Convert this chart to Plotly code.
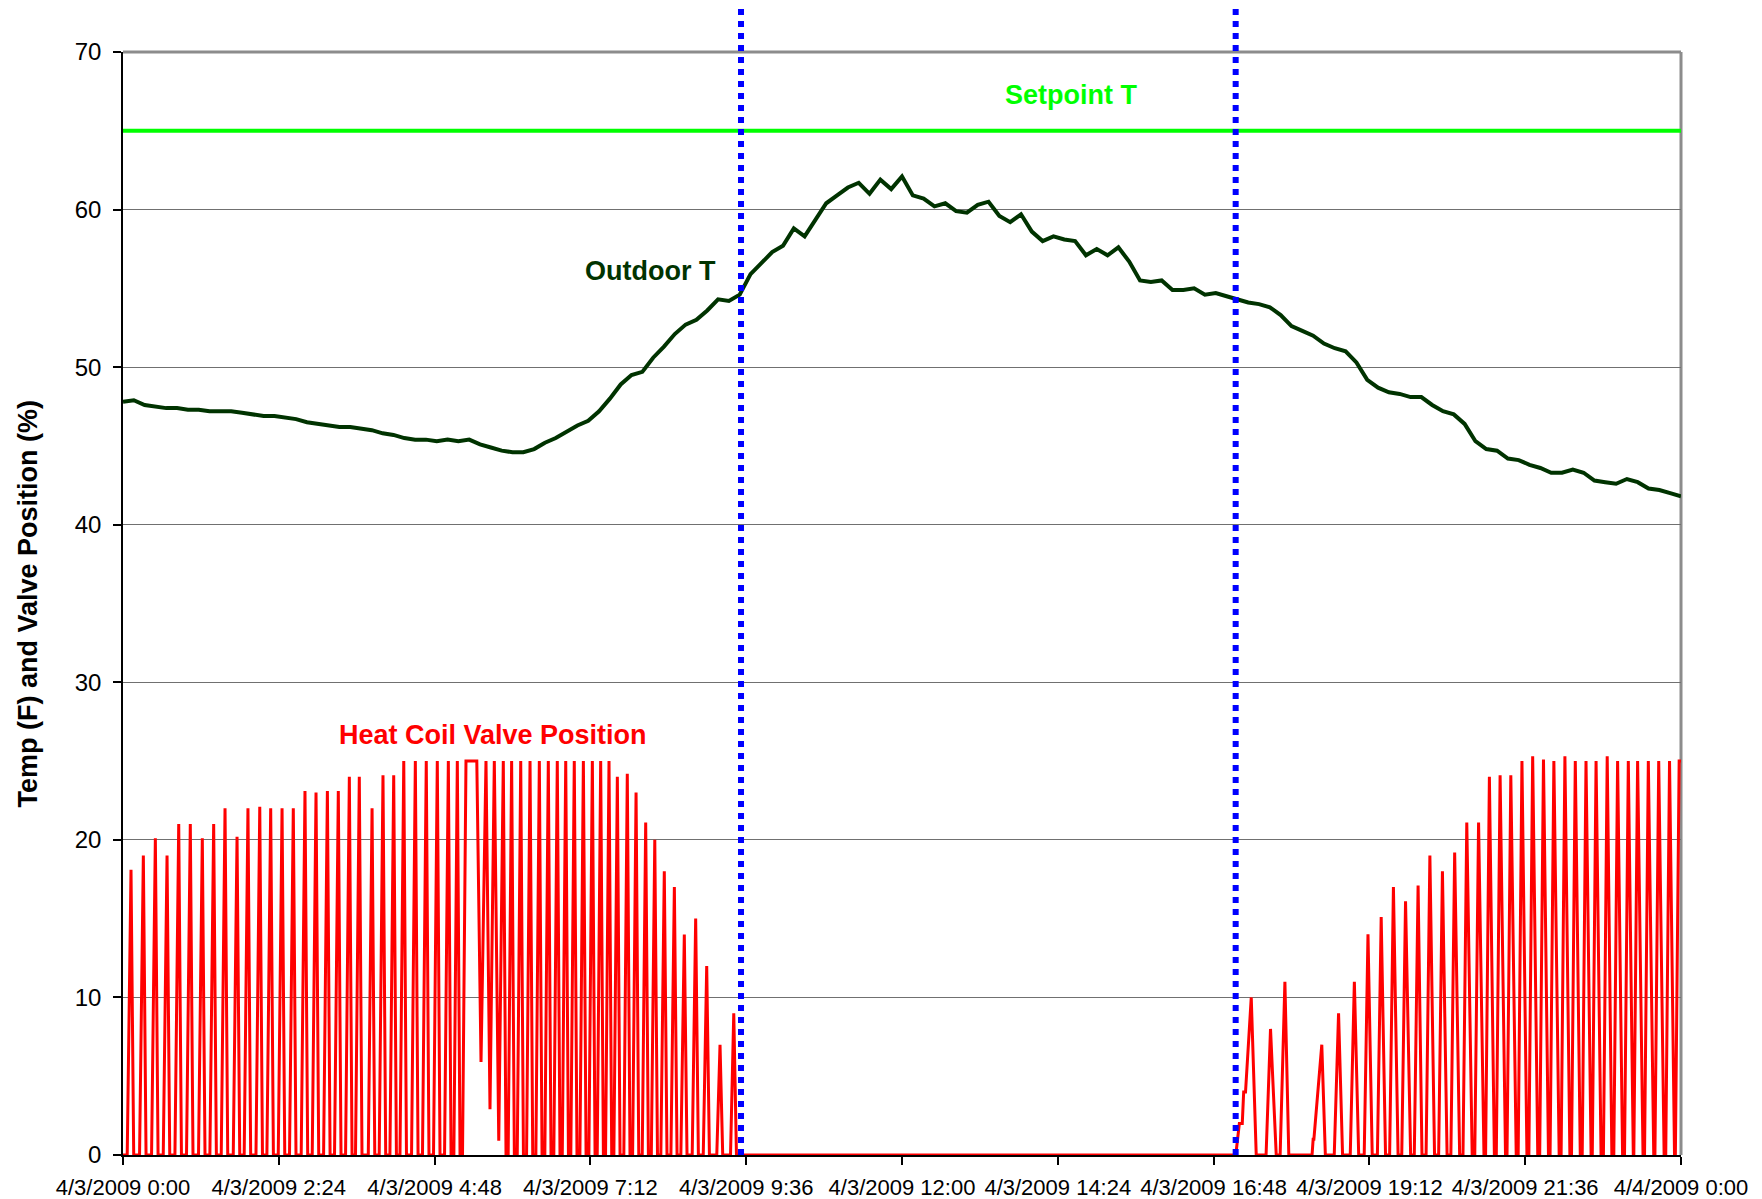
import plotly.graph_objects as go

# ---------------- data ----------------
x_tick_hours = [0, 2.4, 4.8, 7.2, 9.6, 12.0, 14.4, 16.8, 19.2, 21.6, 24.0]
x_tick_labels = ["4/3/2009 0:00", "4/3/2009 2:24", "4/3/2009 4:48", "4/3/2009 7:12",
                 "4/3/2009 9:36", "4/3/2009 12:00", "4/3/2009 14:24", "4/3/2009 16:48",
                 "4/3/2009 19:12", "4/3/2009 21:36", "4/4/2009 0:00"]

setpoint_hours = [0, 24]
setpoint_temp = [65, 65]

# outdoor temperature, one reading every 10 minutes from 0:00 to 24:00
outdoor_step_min = 10
outdoor_temp = [
    47.8, 47.9, 47.6, 47.5, 47.4, 47.4,
    47.3, 47.3, 47.2, 47.2, 47.2, 47.1,
    47.0, 46.9, 46.9, 46.8, 46.7, 46.5,
    46.4, 46.3, 46.2, 46.2, 46.1, 46.0,
    45.8, 45.7, 45.5, 45.4, 45.4, 45.3,
    45.4, 45.3, 45.4, 45.1, 44.9, 44.7,
    44.6, 44.6, 44.8, 45.2, 45.5, 45.9,
    46.3, 46.6, 47.2, 48.0, 48.9, 49.5,
    49.7, 50.6, 51.3, 52.1, 52.7, 53.0,
    53.6, 54.3, 54.2, 54.6, 55.9, 56.6,
    57.3, 57.7, 58.8, 58.3, 59.3, 60.4,
    60.9, 61.4, 61.7, 61.0, 61.9, 61.3,
    62.1, 60.9, 60.7, 60.2, 60.4, 59.9,
    59.8, 60.3, 60.5, 59.6, 59.2, 59.7,
    58.6, 58.0, 58.3, 58.1, 58.0, 57.1,
    57.5, 57.1, 57.6, 56.7, 55.5, 55.4,
    55.5, 54.9, 54.9, 55.0, 54.6, 54.7,
    54.5, 54.3, 54.1, 54.0, 53.8, 53.3,
    52.6, 52.3, 52.0, 51.5, 51.2, 51.0,
    50.3, 49.2, 48.7, 48.4, 48.3, 48.1,
    48.1, 47.6, 47.2, 47.0, 46.4, 45.3,
    44.8, 44.7, 44.2, 44.1, 43.8, 43.6,
    43.3, 43.3, 43.5, 43.3, 42.8, 42.7,
    42.6, 42.9, 42.7, 42.3, 42.2, 42.0,
    41.8,
]

# heat coil valve position: (minute of day, percent) vertices
valve_minutes = [
    0, 3.9, 7.4, 9.9, 15.3, 18.8, 21.3, 26.4, 29.9, 32.4, 37.2, 40.7, 43.2,
    48.0, 51.5, 54.0, 58.7, 62.2, 64.7, 69.8, 73.3, 75.8, 80.3, 83.8, 86.3,
    90.8, 94.3, 96.8, 101.9, 105.4, 107.9, 112.0, 115.5, 118.0, 122.9, 126.4, 128.9,
    133.0, 136.5, 139.0, 143.5, 147.0, 149.5, 153.9, 157.4, 159.9, 164.7, 168.2, 170.7,
    174.9, 178.4, 180.9, 185.4, 188.9, 191.4, 195.5, 199.0, 201.5, 205.7, 209.2, 211.7,
    214.9, 218.4, 220.9, 226.7, 230.2, 232.7, 236.8, 240.3, 242.8, 246.7, 250.2, 252.7,
    256.0, 259.5, 262.0, 266.7, 270.2, 272.7, 276.8, 280.3, 282.8, 287.0, 290.5, 293.0,
    297.2, 300.7, 303.2, 305.8, 309.0, 311.5,
    313.8, 317.0, 327.0, 330.9, 335.5, 339.2, 343.2, 347.3, 351.5, 354.0,
    356.0, 359.2, 361.7, 364.4, 367.6, 370.1, 373.0, 376.2, 378.7, 381.6, 384.8, 387.3,
    389.9, 393.1, 395.6, 398.2, 401.4, 403.9, 406.0, 409.2, 411.7, 413.9, 417.1, 419.6,
    422.3, 425.5, 428.0, 430.6, 433.8, 436.3, 438.3, 441.5, 444.0, 446.0, 449.2, 451.7,
    453.7, 456.9, 459.4, 462.9, 466.1, 468.6, 471.0, 474.2, 476.7, 479.9, 483.1, 485.6,
    488.3, 491.5, 494.0, 497.1, 500.3, 502.8, 506.4, 509.6, 512.1, 515.6, 518.8, 521.3,
    526.1, 529.3, 531.8, 536.3, 539.5, 542.0, 548.8, 551.8, 554.3, 561.5, 564.5, 567.0,
    1028.5, 1031.8, 1034.5, 1035.8, 1037.5, 1042.8, 1047.4,
    1056.5, 1060.6, 1065.9, 1069.5, 1073.9, 1077.5,
    1099.0, 1100.0, 1100.7, 1108.0, 1111.3,
    1119.5, 1123.5, 1127.2, 1134.3, 1138.1, 1142.1, 1147.2, 1150.7, 1154.6,
    1159.4, 1162.9, 1166.9, 1170.7, 1174.2, 1178.5, 1181.9, 1185.4, 1190.1,
    1193.5, 1197.0, 1200.6, 1204.4, 1207.9, 1212.2, 1216.0, 1219.5, 1223.8,
    1227.3, 1230.8, 1235.4, 1238.5, 1242.0, 1247.0, 1249.4, 1252.9, 1257.9,
    1259.4, 1262.9, 1267.5, 1269.3, 1272.8, 1277.8, 1279.2, 1282.7, 1287.7,
    1289.5, 1293.0, 1297.6, 1299.4, 1302.9, 1307.6, 1309.4, 1312.9, 1317.5,
    1319.0, 1322.5, 1327.4, 1329.2, 1332.7, 1337.3, 1338.8, 1342.3, 1346.9,
    1348.7, 1352.2, 1356.9, 1358.0, 1361.5, 1366.1, 1368.3, 1371.8, 1376.1,
    1377.9, 1381.4, 1386.0, 1387.8, 1391.3, 1395.9, 1396.4, 1399.9, 1404.9,
    1406.3, 1409.8, 1414.8, 1415.9, 1419.4, 1424.4, 1425.9, 1429.4, 1434.0,
    1434.8, 1438.3, 1440.0,
]
valve_percent = [
    0, 0, 18.1, 0, 0, 19.0, 0, 0, 20.1, 0, 0, 19.0, 0,
    0, 21.0, 0, 0, 21.0, 0, 0, 20.1, 0, 0, 21.0, 0,
    0, 22.0, 0, 0, 20.2, 0, 0, 22.0, 0, 0, 22.1, 0,
    0, 22.0, 0, 0, 22.0, 0, 0, 22.0, 0, 0, 23.1, 0,
    0, 23.0, 0, 0, 23.1, 0, 0, 23.1, 0, 0, 24.0, 0,
    0, 24.0, 0, 0, 22.0, 0, 0, 24.1, 0, 0, 24.1, 0,
    0, 25.0, 0, 0, 25.0, 0, 0, 25.0, 0, 0, 25.0, 0,
    0, 25.0, 0, 0, 25.0, 0,
    0, 25.0, 25.0, 5.9, 25.0, 2.9, 25.0, 0.9, 25.0, 0,
    0, 25.0, 0, 0, 25.0, 0, 0, 25.0, 0, 0, 25.0, 0,
    0, 25.0, 0, 0, 25.0, 0, 0, 25.0, 0, 0, 25.0, 0,
    0, 25.0, 0, 0, 25.0, 0, 0, 25.0, 0, 0, 25.0, 0,
    0, 24.0, 0, 0, 24.2, 0, 0, 23.0, 0, 0, 21.1, 0,
    0, 20.0, 0, 0, 18.0, 0, 0, 17.0, 0, 0, 14.0, 0,
    0, 15.0, 0, 0, 12.0, 0, 0, 7.0, 0, 0, 9.0, 0,
    0, 2.0, 2.0, 4.0, 4.0, 10.0, 0,
    0, 8.0, 0, 0, 11.0, 0,
    0, 1.0, 1.0, 7.0, 0,
    0, 9.0, 0, 0, 11.0, 0, 0, 14.0, 0,
    0, 15.1, 0, 0, 17.0, 0, 0, 16.1, 0,
    0, 17.1, 0, 0, 19.0, 0, 0, 18.0, 0,
    0, 19.2, 0, 0, 21.1, 0, 0, 21.1, 0,
    0, 24.0, 0, 0, 24.1, 0, 0, 24.1, 0,
    0, 25.0, 0, 0, 25.3, 0, 0, 25.1, 0,
    0, 25.0, 0, 0, 25.3, 0, 0, 25.0, 0,
    0, 25.0, 0, 0, 25.0, 0, 0, 25.3, 0,
    0, 25.0, 0, 0, 25.0, 0, 0, 25.0, 0,
    0, 25.0, 0, 0, 25.0, 0, 0, 25.0, 0,
    0, 25.0, 25.0,
]

# occupancy boundaries (hours)
boundary_hours = [9.52, 17.14]

# ---------------- figure ----------------
FONT = "Arial, Liberation Sans, Helvetica, sans-serif"
outdoor_hours = [i * outdoor_step_min / 60 for i in range(len(outdoor_temp))]
valve_hours = [m / 60 for m in valve_minutes]

fig = go.Figure()
fig.add_trace(go.Scatter(x=valve_hours, y=valve_percent, mode="lines",
                         line=dict(color="#FF0000", width=3), name="Heat Coil Valve Position"))
fig.add_trace(go.Scatter(x=outdoor_hours, y=outdoor_temp, mode="lines",
                         line=dict(color="#003300", width=4), name="Outdoor T"))
fig.add_trace(go.Scatter(x=setpoint_hours, y=setpoint_temp, mode="lines",
                         line=dict(color="#00FF00", width=4), name="Setpoint T"))

shapes = []
# plot-area border (top and right), gray
shapes.append(dict(type="line", xref="paper", yref="paper", x0=0, x1=1, y0=1, y1=1,
                   line=dict(color="#8c8c8c", width=3), layer="below"))
shapes.append(dict(type="line", xref="paper", yref="paper", x0=1, x1=1, y0=0, y1=1,
                   line=dict(color="#8c8c8c", width=3), layer="below"))
for h in boundary_hours:
    shapes.append(dict(type="line", xref="x", yref="paper", x0=h, x1=h, y0=0, y1=1.04,
                       line=dict(color="#0000FF", width=6, dash="dot"), layer="above"))

annotations = [
    dict(x=14.6, y=67.3, xref="x", yref="y", text="<b>Setpoint T</b>", showarrow=False,
         font=dict(family=FONT, size=27, color="#00FF00")),
    dict(x=8.13, y=56.1, xref="x", yref="y", text="<b>Outdoor T</b>", showarrow=False,
         font=dict(family=FONT, size=27, color="#003300")),
    dict(x=5.70, y=26.65, xref="x", yref="y", text="<b>Heat Coil Valve Position</b>",
         showarrow=False, font=dict(family=FONT, size=27, color="#FF0000")),
    dict(x=-0.0725, y=0.50, xref="paper", yref="paper",
         text="<b>Temp (F) and Valve Position (%)</b>", textangle=-90, showarrow=False,
         font=dict(family=FONT, size=27, color="#000000")),
]

# page body has an 8px margin, so the figure is offset by 8px
fig.update_layout(
    width=1746, height=1191,
    margin=dict(l=115, r=73, t=44, b=44, autoexpand=False),
    paper_bgcolor="white", plot_bgcolor="white",
    showlegend=False,
    shapes=shapes, annotations=annotations,
    font=dict(family=FONT, color="#000000"),
)
fig.update_xaxes(range=[0, 24], tickvals=x_tick_hours, ticktext=x_tick_labels,
                 ticks="outside", ticklen=8, tickwidth=1.5, tickcolor="#000000",
                 showline=True, linecolor="#000000", linewidth=1.5,
                 showgrid=False, zeroline=False, ticklabelstandoff=4,
                 tickfont=dict(family=FONT, size=22, color="#000000"))
fig.update_yaxes(range=[0, 70], dtick=10, tick0=0,
                 ticks="outside", ticklen=8, tickwidth=1.5, tickcolor="#000000",
                 showline=True, linecolor="#000000", linewidth=1.5,
                 showgrid=True, gridcolor="#707070", gridwidth=1.2, zeroline=False,
                 ticklabelstandoff=7,
                 tickfont=dict(family=FONT, size=24, color="#000000"))

fig.write_html("out.html")
